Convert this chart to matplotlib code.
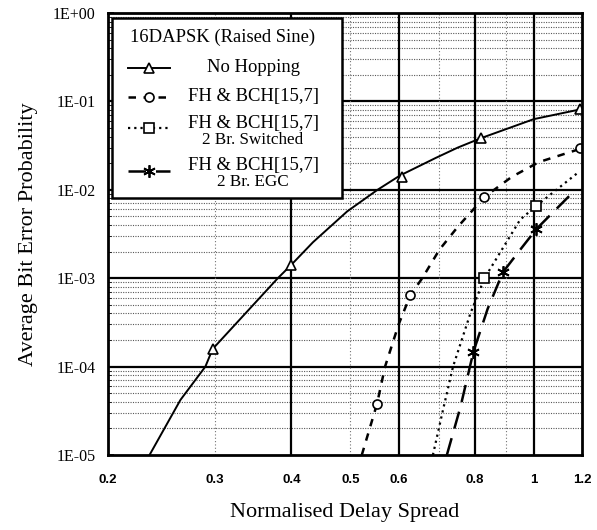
import numpy as np
import matplotlib
matplotlib.use("Agg")
import matplotlib.pyplot as plt
from matplotlib.lines import Line2D
from matplotlib.patches import Rectangle

# curves (x = normalised delay spread, y = BER)
nohop_x = [0.234, 0.263, 0.289, 0.297, 0.329, 0.38, 0.40, 0.434, 0.494, 0.554, 0.603, 0.69, 0.75, 0.82, 1.0, 1.2]
nohop_y = [1e-5, 4.2e-5, 1e-4, 1.58e-4, 3.4e-4, 1e-3, 1.42e-3, 2.55e-3, 5.7e-3, 1e-2, 1.45e-2, 2.29e-2, 3.0e-2, 3.85e-2, 6.3e-2, 8.2e-2]
nohop_mx = [0.297, 0.40, 0.608, 0.82, 1.19]
nohop_my = [1.58e-4, 1.41e-3, 1.4e-2, 3.85e-2, 8.2e-2]

fh_x = [0.522, 0.553, 0.57, 0.60, 0.627, 0.656, 0.70, 0.75, 0.787, 0.83, 0.92, 1.02, 1.2]
fh_y = [1e-5, 3.8e-5, 1e-4, 3.0e-4, 6.4e-4, 1e-3, 2.1e-3, 3.8e-3, 5.5e-3, 8.3e-3, 1.4e-2, 2.06e-2, 2.95e-2]
fh_mx = [0.553, 0.627, 0.83, 1.19]
fh_my = [3.8e-5, 6.4e-4, 8.3e-3, 2.95e-2]

sw_x = [0.683, 0.71, 0.737, 0.787, 0.83, 0.89, 0.95, 1.01, 1.18]
sw_y = [1e-5, 3.3e-5, 1e-4, 4.0e-4, 1e-3, 2.2e-3, 4.6e-3, 6.6e-3, 1.55e-2]
sw_mx = [0.83, 1.01]
sw_my = [1e-3, 6.6e-3]

egc_x = [0.72, 0.758, 0.796, 0.84, 0.89, 0.95, 1.01, 1.16]
egc_y = [1e-5, 3.5e-5, 1.47e-4, 4.5e-4, 1.17e-3, 2.1e-3, 3.6e-3, 9.4e-3]
egc_mx = [0.796, 0.89, 1.01]
egc_my = [1.47e-4, 1.17e-3, 3.6e-3]

xticks = [0.2, 0.3, 0.4, 0.5, 0.6, 0.8, 1.0, 1.2]
xtick_labels = ["0.2", "0.3", "0.4", "0.5", "0.6", "0.8", "1", "1.2"]
yticks = [1e-5, 1e-4, 1e-3, 1e-2, 1e-1, 1e0]
ytick_labels = ["1E-05", "1E-04", "1E-03", "1E-02", "1E-01", "1E+00"]

legend_title = "16DAPSK (Raised Sine)"
legend_labels = ["No Hopping", "FH & BCH[15,7]", "FH & BCH[15,7]", "FH & BCH[15,7]"]
legend_sublabels = [None, None, "2 Br. Switched", "2 Br. EGC"]

serif = "Liberation Serif"

styles = [
    dict(ls="-", lw=1.4, marker="^", ms=7, mfc="white", mew=1.2),
    dict(ls=(0, (3, 3)), lw=1.8, marker="o", ms=6.5, mfc="white", mew=1.2),
    dict(ls=(0, (1, 1.8)), lw=1.6, marker="s", ms=6.5, mfc="white", mew=1.2),
    dict(ls=(0, (7, 4)), lw=1.8, marker=(6, 2, 0), ms=9, mew=1.3),
]


def marker_style(st):
    return {k: v for k, v in st.items() if k not in ("ls", "lw")}


def main():
    fig = plt.figure(figsize=(5.97, 5.30), dpi=100)
    ax = fig.add_axes([108 / 597, 1 - 455 / 530, 474 / 597, 442 / 530])
    ax.set_xscale("log")
    ax.set_yscale("log")
    ax.set_xlim(0.2, 1.2)
    ax.set_ylim(1e-5, 1)

    # grid
    for d in range(-5, 0):
        for k in range(2, 10):
            ax.axhline(k * 10.0 ** d, color="0.35", lw=0.8, ls=(0, (1, 1.2)), zorder=1)
    for y in yticks[1:-1]:
        ax.axhline(y, color="black", lw=1.6, zorder=1)
    for x in [0.3, 0.5, 0.7, 0.9]:
        ax.axvline(x, color="0.45", lw=0.8, ls=(0, (1, 2)), zorder=1)
    for x in [0.4, 0.6, 0.8, 1.0]:
        ax.axvline(x, color="black", lw=1.6, zorder=1)

    series = [(nohop_x, nohop_y, nohop_mx, nohop_my),
              (fh_x, fh_y, fh_mx, fh_my),
              (sw_x, sw_y, sw_mx, sw_my),
              (egc_x, egc_y, egc_mx, egc_my)]
    for (x, y, mx, my), st in zip(series, styles):
        ax.plot(x, y, ls=st["ls"], lw=st["lw"], color="black", zorder=3)
        ax.plot(mx, my, ls="none", color="black", zorder=3, **marker_style(st))

    ax.set_xticks(xticks)
    ax.set_xticklabels(xtick_labels, fontfamily="Liberation Sans", fontweight="bold", fontsize=9.5)
    ax.xaxis.set_minor_locator(matplotlib.ticker.NullLocator())
    ax.set_yticks(yticks)
    ax.set_yticklabels(ytick_labels, fontfamily=serif, fontsize=11.5)
    ax.tick_params(axis="x", length=0, pad=14)
    ax.tick_params(axis="y", which="major", direction="in", length=4, width=1.2, pad=9)
    ax.tick_params(axis="y", which="minor", direction="in", length=2)
    for s in ax.spines.values():
        s.set_linewidth(2)
        s.set_zorder(4)

    ax.set_xlabel("Normalised Delay Spread", fontfamily=serif, fontsize=16, labelpad=12)
    ax.set_ylabel("Average Bit Error Probability", fontfamily=serif, fontsize=16)
    ax.yaxis.set_label_coords(-0.148, 0.5)

    # legend box drawn by hand so the labels can be centred like the original
    ax.add_patch(Rectangle((0.0084, 0.581), 0.486, 0.407, transform=ax.transAxes,
                           fc="white", ec="black", lw=1.8, zorder=5))
    ax.text(0.046, 0.946, legend_title, transform=ax.transAxes, family=serif,
            fontsize=13.4, ha="left", va="center", zorder=6)
    handle_y = [0.876, 0.810, 0.740, 0.643]
    text_y = [0.876, 0.810, 0.751, 0.656]
    for hy, ty, lab, sub, st in zip(handle_y, text_y, legend_labels, legend_sublabels, styles):
        ax.add_line(Line2D([0.042, 0.131], [hy, hy], transform=ax.transAxes, color="black",
                           ls=st["ls"], lw=st["lw"], zorder=6))
        ax.add_line(Line2D([0.0865], [hy], transform=ax.transAxes, color="black", ls="none",
                           zorder=6, **marker_style(st)))
        ax.text(0.306, ty, lab, transform=ax.transAxes, family=serif, fontsize=13.4,
                ha="center", va="center", zorder=6)
        if sub:
            ax.text(0.306, ty - 0.038, sub, transform=ax.transAxes, family=serif, fontsize=12.3,
                    ha="center", va="center", zorder=6)

    fig.savefig("out.png", dpi=100)


if __name__ == "__main__":
    main()
